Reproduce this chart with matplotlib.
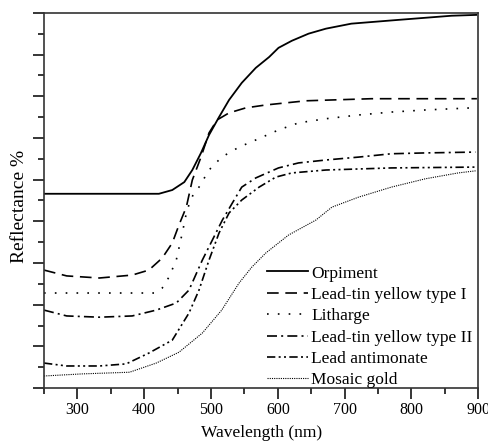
import matplotlib
matplotlib.use('Agg')
import matplotlib.pyplot as plt
from matplotlib.ticker import MultipleLocator, NullFormatter

plt.rcParams['font.family'] = ['Liberation Serif', 'DejaVu Serif']

# Reflectance spectra, read as (wavelength nm, reflectance %) pairs
orpiment_wl = [250, 422, 442, 460, 472, 485, 497, 512, 527, 546, 567, 587, 601, 621, 646, 672, 710, 780, 860, 897]
orpiment_r = [46.6, 46.6, 47.5, 49.4, 52.3, 56.4, 60.7, 65.0, 69.1, 73.2, 76.8, 79.4, 81.6, 83.3, 85.0, 86.2, 87.4, 88.3, 89.3, 89.5]

lty1_wl = [250, 284, 333, 382, 407, 427, 442, 452, 463, 472, 485, 497, 509, 527, 552, 582, 642, 740, 898]
lty1_r = [28.3, 26.9, 26.4, 27.1, 28.3, 31.2, 34.8, 39.1, 43.4, 49.9, 55.4, 61.2, 64.3, 66.0, 67.2, 67.9, 68.9, 69.4, 69.4]

litharge_wl = [250, 415, 427, 437, 448, 457, 464, 473, 482, 497, 516, 542, 567, 601, 631, 672, 721, 770, 821, 890]
litharge_r = [22.8, 22.8, 24.0, 26.6, 30.7, 37.2, 42.7, 46.3, 48.2, 52.3, 55.4, 57.8, 59.5, 61.9, 63.6, 64.6, 65.5, 66.2, 66.7, 67.2]

lty2_wl = [250, 284, 333, 382, 418, 448, 467, 487, 502, 517, 532, 546, 567, 601, 631, 672, 721, 770, 821, 896]
lty2_r = [18.7, 17.3, 17.0, 17.3, 18.7, 20.4, 23.5, 30.7, 35.5, 40.3, 44.4, 48.2, 50.4, 52.8, 54.0, 54.7, 55.4, 56.2, 56.4, 56.6]

antimonate_wl = [250, 284, 333, 373, 407, 442, 467, 482, 497, 512, 527, 546, 572, 597, 621, 672, 770, 896]
antimonate_r = [6.0, 5.3, 5.3, 5.8, 8.4, 11.5, 18.0, 23.5, 30.7, 37.2, 42.0, 45.1, 48.2, 50.6, 51.6, 52.3, 52.8, 53.0]

mosaic_wl = [250, 307, 378, 418, 452, 487, 516, 542, 561, 582, 616, 657, 681, 721, 770, 821, 870, 896]
mosaic_r = [2.9, 3.4, 3.8, 6.0, 8.6, 13.2, 18.7, 25.2, 29.0, 32.4, 36.7, 40.3, 43.4, 45.8, 48.2, 50.2, 51.6, 52.1]

fig = plt.figure(figsize=(4.89, 4.42), dpi=100)
ax = fig.add_axes([0.090, 0.122, 0.888, 0.849])

ax.plot(orpiment_wl, orpiment_r, color='black', lw=1.3, label='Orpiment')
ax.plot(lty1_wl, lty1_r, color='black', lw=1.2, dashes=(7, 4), label='Lead-tin yellow type I')
ax.plot(litharge_wl, litharge_r, color='black', lw=1.2, dashes=(1, 5.5), label='Litharge')
ax.plot(lty2_wl, lty2_r, color='black', lw=1.2, dashes=(6, 2.5, 1.2, 2.5), label='Lead-tin yellow type II')
ax.plot(antimonate_wl, antimonate_r, color='black', lw=1.2,
        dashes=(5, 2, 1.2, 2, 1.2, 2), label='Lead antimonate')
ax.plot(mosaic_wl, mosaic_r, color='black', lw=0.8, dashes=(1, 1), label='Mosaic gold')

ax.set_xlim(250, 900)
ax.set_ylim(0, 90)
ax.xaxis.set_major_locator(MultipleLocator(100))
ax.xaxis.set_minor_locator(MultipleLocator(50))
ax.yaxis.set_major_locator(MultipleLocator(10))
ax.yaxis.set_minor_locator(MultipleLocator(5))
ax.yaxis.set_major_formatter(NullFormatter())
ax.tick_params(axis='both', which='major', direction='out', length=8, width=1.1, labelsize=11.5, pad=2)
ax.tick_params(axis='both', which='minor', direction='out', length=4, width=1.1)
ax.tick_params(top=False, right=False)
for s in ax.spines.values():
    s.set_linewidth(1.2)
    s.set_color('#333333')

ax.set_xticks([300, 400, 500, 600, 700, 800, 900])
ax.set_xlabel('Wavelength (nm)', fontsize=12.5, labelpad=5)
ax.set_ylabel('Reflectance %', fontsize=14)
ax.yaxis.set_label_coords(-0.036, 0.485)

ax.legend(loc='upper left', bbox_to_anchor=(0.513, 0.327), frameon=False, fontsize=12.5,
          handlelength=2.4, handletextpad=0.15, labelspacing=0.30, borderpad=0, borderaxespad=0)

fig.savefig('out.png', dpi=100)
